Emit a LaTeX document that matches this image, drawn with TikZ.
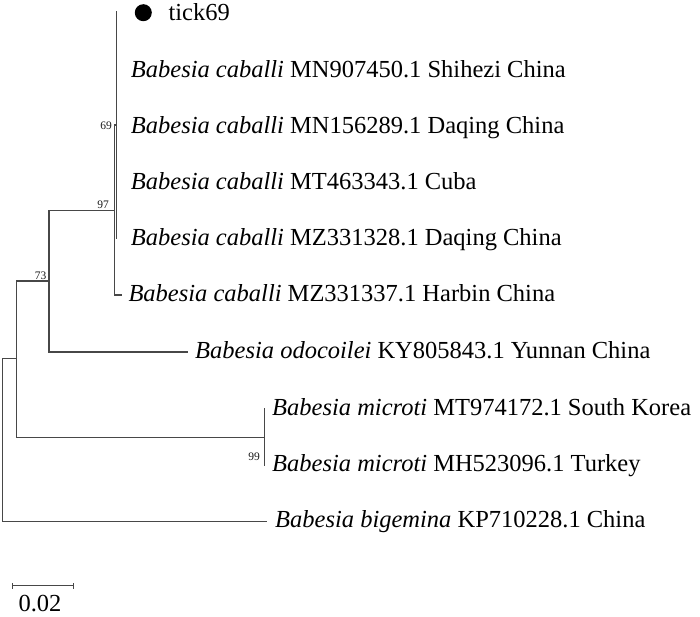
\documentclass[tikz,border=0pt]{standalone}
\usepackage{fontspec}
\setmainfont{Liberation Serif}
\begin{document}
\begin{tikzpicture}[x=1pt,y=-1pt,
  branch/.style={draw=black!72,line width=1.2pt,line cap=rect},
  lab/.style={anchor=base west,inner sep=0pt,font=\fontsize{24.5}{28}\selectfont},
  boot/.style={inner sep=0pt,font=\fontsize{11.5}{12}\selectfont,text=black!90}]
\useasboundingbox (0,0) rectangle (700,616);
% internal coordinates
\coordinate (rt) at (2.7,358.3);
\coordinate (rb) at (2.7,521.7);
\coordinate (n1) at (16.7,358.3);
\coordinate (n1t) at (16.7,281);
\coordinate (n1b) at (16.7,437.3);
\coordinate (n73t) at (49,281);
\coordinate (n73a) at (49,210.7);
\coordinate (n73b) at (49,352);
\coordinate (odo) at (187.3,352);
\coordinate (n97) at (114.3,210.7);
\coordinate (n97t) at (114.3,125);
\coordinate (n97b) at (114.3,295);
\coordinate (harb) at (121.7,295);
\coordinate (n69) at (116.3,125);
\coordinate (n69t) at (116.3,11.7);
\coordinate (n69b) at (116.3,238);
\coordinate (mic) at (264.3,437.3);
\coordinate (mict) at (264.3,408.3);
\coordinate (micb) at (264.3,465.7);
\coordinate (big) at (266.7,521.7);
% branches
\draw[branch] (rt) -- (rb);
\draw[branch] (rt) -- (n1);
\draw[branch] (n1t) -- (n1b);
\draw[branch] (n1t) -- (n73t);
\draw[branch] (n73a) -- (n73b);
\draw[branch] (n73a) -- (n97);
\draw[branch] (n73b) -- (odo);
\draw[branch] (n97t) -- (n97b);
\draw[branch] (n97t) -- (n69);
\draw[branch] (n97b) -- (harb);
\draw[branch] (n69t) -- (n69b);
\draw[branch] (n1b) -- (mic);
\draw[branch] (mict) -- (micb);
\draw[branch] (rb) -- (big);
% bootstrap values
\node[boot,anchor=east] (b69) at (112,125.5) {69};
\node[boot] (b97) at (103,204.5) {97};
\node[boot] (b73) at (40.5,275.5) {73};
\node[boot] (b99) at (254,457) {99};
% tips
\node[circle,fill=black,inner sep=0pt,minimum size=17pt] (dot) at (143.3,12.7) {};
\node[lab] (t0) at (168.3,20) {tick69};
\node[lab] (t1) at (130.7,77.5) {\textit{Babesia caballi} MN907450.1 Shihezi China};
\node[lab] (t2) at (130.7,133.3) {\textit{Babesia caballi} MN156289.1 Daqing China};
\node[lab] (t3) at (130.7,189) {\textit{Babesia caballi} MT463343.1 Cuba};
\node[lab] (t4) at (130.7,245) {\textit{Babesia caballi} MZ331328.1 Daqing China};
\node[lab] (t5) at (128.3,301.7) {\textit{Babesia caballi} MZ331337.1 Harbin China};
\node[lab] (t6) at (195,358.5) {\textit{Babesia odocoilei} KY805843.1 Yunnan China};
\node[lab] (t7) at (272,415) {\textit{Babesia microti} MT974172.1 South Korea};
\node[lab] (t8) at (272,471.7) {\textit{Babesia microti} MH523096.1 Turkey};
\node[lab] (t9) at (275,527.5) {\textit{Babesia bigemina} KP710228.1 China};
% scale bar
\coordinate (s1) at (12.3,585.5);
\coordinate (s2) at (73.3,585.5);
\draw[branch,line cap=butt] (s1) -- (s2);
\draw[branch,line cap=butt] ([yshift=-3pt]s1) -- ([yshift=3pt]s1);
\draw[branch,line cap=butt] ([yshift=-3pt]s2) -- ([yshift=3pt]s2);
\node[anchor=base,inner sep=0pt,text depth=0pt,font=\fontsize{24.5}{28}\selectfont] (sl) at (40,611) {0.02};
\end{tikzpicture}
\end{document}
